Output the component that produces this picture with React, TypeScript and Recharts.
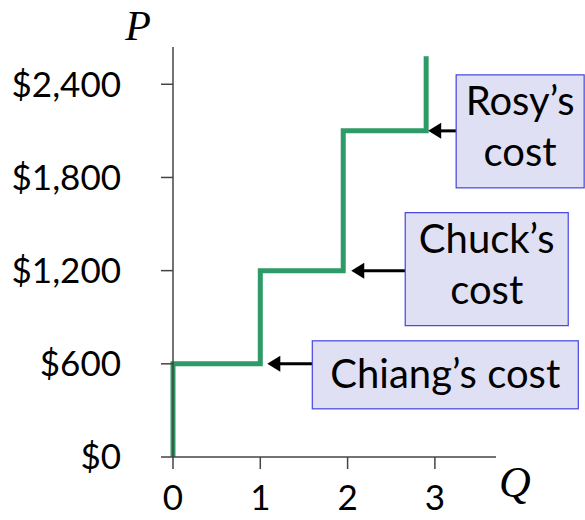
import React from 'react';
import { LineChart, Line, XAxis, YAxis, ReferenceDot } from 'recharts';

// step supply curve: quantity and price at each corner
const quantities = [0, 0, 1, 1, 1.95, 1.95, 2.9, 2.9];
const prices = [0, 600, 600, 1200, 1200, 2100, 2100, 2580];

const xTicks = [0, 1, 2, 3];
const yTicks = [0, 600, 1200, 1800, 2400];

// which corner each label points at
const labelQ = [1, 1.95, 2.9];
const labelP = [600, 1200, 2100];
const labelText = [['Chiang\u2019s cost'], ['Chuck\u2019s', 'cost'], ['Rosy\u2019s', 'cost']];

// box placement relative to the corner, in px
const boxLayout = [
  { tip: 7, left: 52, width: 266, top: -23, height: 68 },
  { tip: 8, left: 62, width: 163, top: -58, height: 113 },
  { tip: 2, left: 30, width: 128, top: -56, height: 113 },
];

const chartData = quantities.map((q, i) => ({ q, p: prices[i] }));

const fmtPrice = (v: number) => '$' + v.toLocaleString('en-US');

const FONT = 'Lato, "Open Sans", sans-serif';

const makeCallout = (idx: number) => (props: any) => {
  const { cx, cy } = props;
  const lay = boxLayout[idx];
  const lines = labelText[idx];
  const bx = cx + lay.left;
  const by = cy + lay.top;
  const midX = bx + lay.width / 2;
  const midY = by + lay.height / 2;
  const tipX = cx + lay.tip;
  const baselines = lines.length === 1 ? [midY + 13] : [midY - 16, midY + 35];
  return (
    <g>
      <line x1={bx} y1={cy} x2={tipX + 10} y2={cy} stroke="#000" strokeWidth={3} />
      <polygon points={`${tipX},${cy} ${tipX + 13},${cy - 8} ${tipX + 13},${cy + 8}`} fill="#000" />
      <rect x={bx} y={by} width={lay.width} height={lay.height} fill="#e0e0f5" stroke="#4444dd" strokeWidth={1.2} />
      {lines.map((t, i) => (
        <text key={i} x={midX} y={baselines[i]} textAnchor="middle" fontFamily={FONT} fontSize={40} fill="#000">
          {t}
        </text>
      ))}
    </g>
  );
};

const App: React.FC = () => {
  return (
    <div style={{ position: 'absolute', left: 0, top: 0, width: 585, height: 520, background: '#fff' }}>
      <LineChart width={585} height={520} data={chartData} margin={{ top: 47, right: 89, bottom: 0, left: 0 }}>
        <XAxis
          dataKey="q"
          type="number"
          domain={[0, 3.7]}
          ticks={xTicks}
          height={63}
          tickSize={12}
          tickMargin={16}
          stroke="#444"
          strokeWidth={1.5}
          tick={{ fontFamily: FONT, fontSize: 35, fill: '#000' }}
          label={(props: any) => {
            const vb = props.viewBox;
            return (
              <text x={vb.x + vb.width + 3} y={vb.y + 40} fontFamily='"Liberation Serif", serif' fontStyle="italic" fontSize={44} fill="#000">
                Q
              </text>
            );
          }}
        />
        <YAxis
          dataKey="p"
          type="number"
          domain={[0, 2640]}
          ticks={yTicks}
          width={173}
          tickSize={12}
          tickMargin={40}
          stroke="#444"
          strokeWidth={1.5}
          tickFormatter={fmtPrice}
          tick={{ fontFamily: FONT, fontSize: 35, fill: '#000' }}
          label={(props: any) => {
            const vb = props.viewBox;
            return (
              <text x={vb.x + vb.width - 22} y={vb.y - 7} textAnchor="end" fontFamily='"Liberation Serif", serif' fontStyle="italic" fontSize={42} fill="#000">
                P
              </text>
            );
          }}
        />
        <Line
          type="linear"
          dataKey="p"
          stroke="#2e9a68"
          strokeWidth={5}
          strokeLinejoin="miter"
          dot={false}
          activeDot={false}
          isAnimationActive={false}
        />
        {labelQ.map((q, i) => (
          <ReferenceDot key={i} x={q} y={labelP[i]} r={1} ifOverflow="visible" shape={makeCallout(i)} />
        ))}
      </LineChart>
    </div>
  );
};

export default App;
